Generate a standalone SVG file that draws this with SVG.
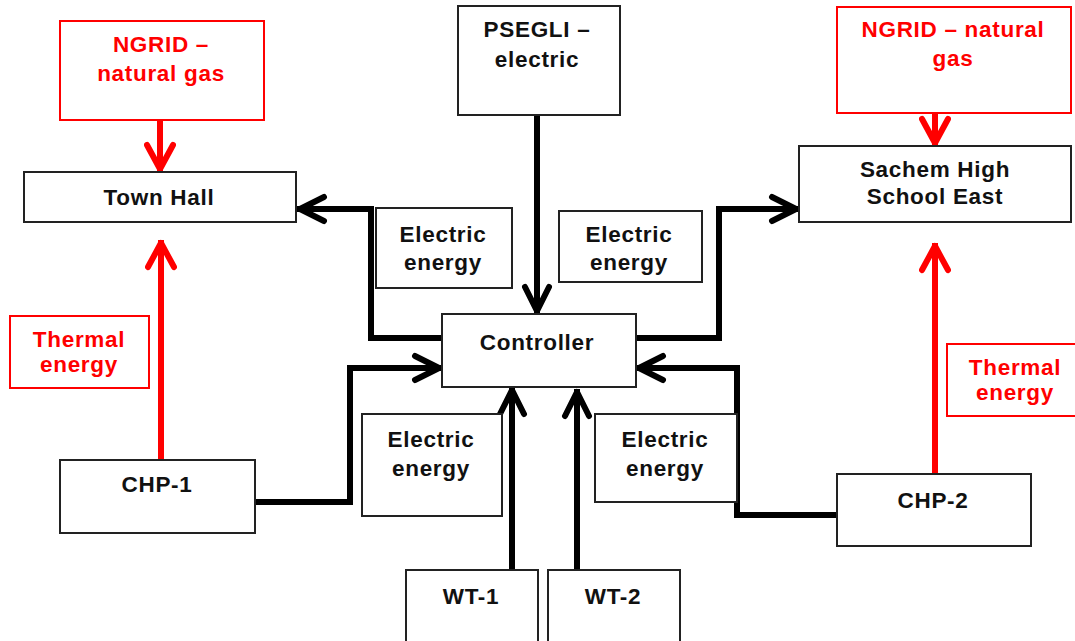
<svg xmlns="http://www.w3.org/2000/svg" width="1075" height="641" viewBox="0 0 1075 641">
<style>
  .box{fill:#fff;stroke:#222;stroke-width:2}
  .rbox{fill:#fff;stroke:#ff0000;stroke-width:2}
  .t{font-family:"Liberation Sans",Arial,sans-serif;font-weight:bold;font-size:22.5px;letter-spacing:0.7px;fill:#111;text-anchor:middle}
  .rt{font-family:"Liberation Sans",Arial,sans-serif;font-weight:bold;font-size:22.5px;letter-spacing:0.7px;fill:#ff0000;text-anchor:middle}
  .k{fill:none;stroke:#000;stroke-width:6;stroke-linejoin:miter}
  .r{fill:none;stroke:#ff0000;stroke-width:6}
</style>
<defs>
  <marker id="ak" viewBox="-4 -16 32 32" markerWidth="32" markerHeight="32" refX="27" refY="0" orient="auto" markerUnits="userSpaceOnUse">
    <path d="M0 -12 L24 0 L0 12" fill="none" stroke="#000" stroke-width="6" stroke-linejoin="round" stroke-linecap="round"/>
  </marker>
  <marker id="ar" viewBox="-4 -16 32 32" markerWidth="32" markerHeight="32" refX="27" refY="0" orient="auto" markerUnits="userSpaceOnUse">
    <path d="M0 -13 L24 0 L0 13" fill="none" stroke="#ff0000" stroke-width="6" stroke-linejoin="round" stroke-linecap="round"/>
  </marker>
</defs>
<rect width="1075" height="641" fill="#fff"/>

<g id="connectors">
  <path class="r" d="M160 120 V172" marker-end="url(#ar)"/>
  <path class="r" d="M161 460 V240" marker-end="url(#ar)"/>
  <path class="r" d="M935 113 V146" marker-end="url(#ar)"/>
  <path class="r" d="M935 474 V243" marker-end="url(#ar)"/>
  <path class="k" d="M537 115 V314" marker-end="url(#ak)"/>
  <path class="k" d="M442 338 H371 V209 H297" marker-end="url(#ak)"/>
  <path class="k" d="M636 338 H719 V209 H799" marker-end="url(#ak)"/>
  <path class="k" d="M255 502 H350 V368 H442" marker-end="url(#ak)"/>
  <path class="k" d="M837 515 H737 V368 H636" marker-end="url(#ak)"/>
  <path class="k" d="M512 570 V387" marker-end="url(#ak)"/>
  <path class="k" d="M577 570 V389" marker-end="url(#ak)"/>
</g>

<g id="ngrid-left">
  <rect class="rbox" x="60" y="21" width="204" height="99"/>
  <text class="rt" x="161" y="52">NGRID –</text>
  <text class="rt" x="161" y="81">natural gas</text>
</g>
<g id="psegli">
  <rect class="box" x="458" y="6" width="162" height="109"/>
  <text class="t" x="537" y="37">PSEGLI –</text>
  <text class="t" x="537" y="67">electric</text>
</g>
<g id="ngrid-right">
  <rect class="rbox" x="837" y="7" width="234" height="106"/>
  <text class="rt" x="953" y="37">NGRID – natural</text>
  <text class="rt" x="953" y="66">gas</text>
</g>
<g id="town-hall">
  <rect class="box" x="24" y="172" width="272" height="50"/>
  <text class="t" x="159" y="205">Town Hall</text>
</g>
<g id="sachem">
  <rect class="box" x="799" y="146" width="272" height="76"/>
  <text class="t" x="935" y="177">Sachem High</text>
  <text class="t" x="935" y="204">School East</text>
</g>
<g id="label-electric-tl">
  <rect class="box" x="376" y="208" width="136" height="80"/>
  <text class="t" x="443" y="242">Electric</text>
  <text class="t" x="443" y="270">energy</text>
</g>
<g id="label-electric-tr">
  <rect class="box" x="559" y="211" width="143" height="71"/>
  <text class="t" x="629" y="242">Electric</text>
  <text class="t" x="629" y="270">energy</text>
</g>
<g id="controller">
  <rect class="box" x="442" y="314" width="194" height="73"/>
  <text class="t" x="537" y="350">Controller</text>
</g>
<g id="label-thermal-left">
  <rect class="rbox" x="10" y="316" width="139" height="72"/>
  <text class="rt" x="79" y="347">Thermal</text>
  <text class="rt" x="79" y="372">energy</text>
</g>
<g id="label-thermal-right">
  <rect class="rbox" x="947" y="344" width="135" height="72"/>
  <text class="rt" x="1015" y="375">Thermal</text>
  <text class="rt" x="1015" y="400">energy</text>
</g>
<g id="label-electric-bl">
  <rect class="box" x="362" y="414" width="140" height="102"/>
  <text class="t" x="431" y="447">Electric</text>
  <text class="t" x="431" y="476">energy</text>
</g>
<g id="label-electric-br">
  <rect class="box" x="595" y="414" width="142" height="88"/>
  <text class="t" x="665" y="447">Electric</text>
  <text class="t" x="665" y="476">energy</text>
</g>
<g id="chp-1">
  <rect class="box" x="60" y="460" width="195" height="73"/>
  <text class="t" x="157" y="492">CHP-1</text>
</g>
<g id="chp-2">
  <rect class="box" x="837" y="474" width="194" height="72"/>
  <text class="t" x="933" y="508">CHP-2</text>
</g>
<g id="wt-1">
  <rect class="box" x="406" y="570" width="132" height="80"/>
  <text class="t" x="471" y="604">WT-1</text>
</g>
<g id="wt-2">
  <rect class="box" x="548" y="570" width="132" height="80"/>
  <text class="t" x="613" y="604">WT-2</text>
</g>
</svg>
